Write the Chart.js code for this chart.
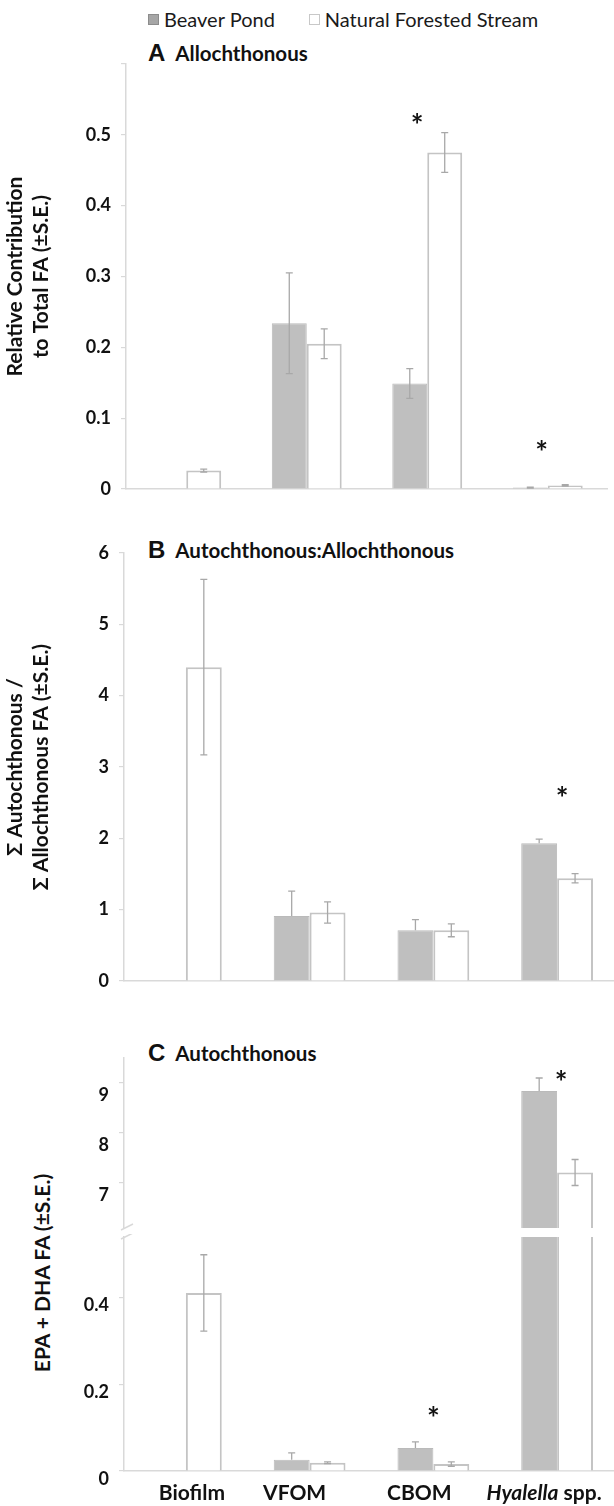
<!DOCTYPE html>
<html>
<head>
<meta charset="utf-8">
<script src="https://cdn.jsdelivr.net/npm/chart.js@4.4.1/dist/chart.umd.min.js"></script>
<style>
  body { margin: 0; width: 614px; height: 1506px; position: relative; overflow: hidden; background: #fff; font-family: Lato, 'Open Sans', sans-serif; color: #111; }
  .box { position: absolute; left: 0; }
  .legend { position: absolute; top: 8px; left: 148px; height: 22px; display: flex; align-items: center; font-size: 20px; line-height: 22px; color: #1a1a1a; }
  .legend__swatch { width: 11px; height: 11px; box-sizing: border-box; margin-right: 5px; }
  .legend__item { display: flex; align-items: center; margin-right: 34px; }
  .ptitle { position: absolute; font-weight: bold; font-size: 20.5px; line-height: 26px; white-space: nowrap; }
  .ptitle__letter { font-family: 'Liberation Sans', Arial, sans-serif; font-size: 24px; margin-right: 10px; }
  .ytitle { position: absolute; font-weight: bold; font-size: 21px; white-space: nowrap; transform: translate(-50%, -50%) rotate(-90deg); }
</style>
</head>
<body>
  <div class="legend">
    <span class="legend__item"><span class="legend__swatch" style="background:#a6a6a6;border:1px solid #8c8c8c"></span>Beaver Pond</span>
    <span class="legend__item"><span class="legend__swatch" style="background:#fff;border:1px solid #c8c8c8"></span>Natural Forested Stream</span>
  </div>

  <div class="ptitle" style="left:148px;top:40px"><span class="ptitle__letter">A</span>Allochthonous</div>
  <div class="ptitle" style="left:148px;top:537px"><span class="ptitle__letter">B</span>Autochthonous:Allochthonous</div>
  <div class="ptitle" style="left:148px;top:1040px"><span class="ptitle__letter">C</span>Autochthonous</div>
  <div class="ytitle" style="left:41px;top:1273px">EPA + DHA FA (±S.E.)</div>

  <div class="box" style="top:54px;width:608px;height:449px"><canvas id="chartA"></canvas></div>
  <div class="box" style="top:543px;width:619px;height:452px"><canvas id="chartB"></canvas></div>
  <div class="box" style="top:1048px;width:619px;height:183px"><canvas id="chartC1"></canvas></div>
  <div class="box" style="top:1234px;width:619px;height:272px"><canvas id="chartC2"></canvas></div>

<script>
  const categories = ['Biofilm', 'VFOM', 'CBOM', 'Hyalella spp.']

  // A: relative contribution of allochthonous FA
  const relBeaver = [null, 0.234, 0.149, 0.002]
  const relBeaverSE = [null, 0.071, 0.021, 0.0006]
  const relNatural = [0.026, 0.205, 0.475, 0.005]
  const relNaturalSE = [0.002, 0.021, 0.028, 0.001]
  const relStars = [null, null, 0.522, 0.06]

  // B: autochthonous / allochthonous ratio
  const ratioBeaver = [null, 0.91, 0.71, 1.93]
  const ratioBeaverSE = [null, 0.35, 0.15, 0.06]
  const ratioNatural = [4.4, 0.96, 0.71, 1.44]
  const ratioNaturalSE = [1.23, 0.15, 0.09, 0.065]
  const ratioStars = [null, null, null, 2.64]

  // C: EPA + DHA
  const epaBeaver = [null, 0.026, 0.053, 8.84]
  const epaBeaverSE = [null, 0.016, 0.014, 0.26]
  const epaNatural = [0.411, 0.019, 0.016, 7.21]
  const epaNaturalSE = [0.088, 0.002, 0.005, 0.26]
  const epaStars = [null, null, 0.136, 9.14]

  const axisColor = '#d9d9d9'
  const errorColor = '#a8a8a8'
  const tickFont = { family: 'Lato', size: 18, weight: 'bold' }

  const errorBars = {
    id: 'errorBars',
    afterDatasetsDraw(chart) {
      const { ctx, chartArea, scales: { y } } = chart
      ctx.save()
      ctx.beginPath()
      ctx.rect(chartArea.left, chartArea.top - 1, chartArea.right - chartArea.left, chartArea.bottom - chartArea.top + 1)
      ctx.clip()
      ctx.strokeStyle = errorColor
      ctx.lineWidth = 1.3
      chart.data.datasets.forEach((ds, i) => {
        chart.getDatasetMeta(i).data.forEach((bar, j) => {
          const v = ds.data[j]
          const se = ds.errors[j]
          if (v == null || se == null) return
          const top = y.getPixelForValue(v + se)
          const bottom = y.getPixelForValue(ds.plusOnly ? v : v - se)
          ctx.beginPath()
          ctx.moveTo(bar.x, top)
          ctx.lineTo(bar.x, bottom)
          ctx.moveTo(bar.x - 3.5, top)
          ctx.lineTo(bar.x + 3.5, top)
          if (!ds.plusOnly) {
            ctx.moveTo(bar.x - 3.5, bottom)
            ctx.lineTo(bar.x + 3.5, bottom)
          }
          ctx.stroke()
        })
      })
      ctx.restore()
    },
  }

  const stars = {
    id: 'stars',
    afterDraw(chart, args, opts) {
      if (!opts.values) return
      const { ctx, chartArea, scales: { x, y } } = chart
      ctx.save()
      ctx.font = 'bold 30px Lato'
      ctx.fillStyle = '#111'
      ctx.textAlign = 'center'
      ctx.textBaseline = 'middle'
      opts.values.forEach((v, i) => {
        if (v == null) return
        const py = y.getPixelForValue(v)
        if (py < chartArea.top - 15 || py > chartArea.bottom) return
        ctx.fillText('*', x.getPixelForValue(i) + (opts.dx[i] || 0), py + 7)
      })
      ctx.restore()
    },
  }

  const axisBreak = {
    id: 'axisBreak',
    afterDraw(chart, args, opts) {
      if (!opts.at) return
      const { ctx, chartArea } = chart
      const yy = opts.at === 'bottom' ? chartArea.bottom : chartArea.top
      ctx.save()
      ctx.strokeStyle = axisColor
      ctx.lineWidth = 1.5
      ctx.beginPath()
      ctx.moveTo(chartArea.left - 3, yy + 2)
      ctx.lineTo(chartArea.left + 9, yy - 4)
      ctx.stroke()
      ctx.restore()
    },
  }

  const categoryLabels = {
    id: 'categoryLabels',
    afterDraw(chart, args, opts) {
      if (!opts.show) return
      const { ctx, chartArea, scales: { x } } = chart
      ctx.save()
      ctx.fillStyle = '#111'
      ctx.textBaseline = 'middle'
      ctx.textAlign = 'left'
      categories.forEach((label, i) => {
        const cx = x.getPixelForValue(i) + (opts.dx[i] || 0)
        const cy = chartArea.bottom + 22
        const parts = label.startsWith('Hyalella') ?
          [['italic bold 21px Lato', 'Hyalella'], ['bold 21px Lato', ' spp.']] :
          [['bold 21px Lato', label]]
        let width = 0
        parts.forEach(([font, text]) => { ctx.font = font; width += ctx.measureText(text).width })
        let px = cx - width / 2
        parts.forEach(([font, text]) => {
          ctx.font = font
          ctx.fillText(text, px, cy)
          px += ctx.measureText(text).width
        })
      })
      ctx.restore()
    },
  }

  function makeChart(id, cfg) {
    return new Chart(document.getElementById(id), {
      type: 'bar',
      data: {
        labels: categories,
        datasets: [
          {
            label: 'Beaver Pond',
            data: cfg.beaver,
            errors: cfg.beaverSE,
            plusOnly: cfg.plusOnly,
            backgroundColor: '#bfbfbf',
            borderColor: '#bababa',
            borderWidth: 1,
          },
          {
            label: 'Natural Forested Stream',
            data: cfg.natural,
            errors: cfg.naturalSE,
            backgroundColor: '#ffffff',
            borderColor: '#c4c4c4',
            borderWidth: 2,
          },
        ],
      },
      options: {
        responsive: true,
        maintainAspectRatio: false,
        animation: false,
        categoryPercentage: 0.58,
        barPercentage: 1,
        layout: { padding: cfg.padding },
        plugins: {
          legend: { display: false },
          tooltip: { enabled: false },
          stars: { values: cfg.stars, dx: cfg.starDx || [] },
          axisBreak: { at: cfg.breakAt },
          categoryLabels: { show: cfg.showLabels, dx: [6, -15, -14, -13] },
        },
        scales: {
          x: {
            grid: { display: false },
            border: { display: cfg.showBase !== false, color: axisColor, width: 1.5 },
            ticks: { display: false },
            afterFit: (scale) => {
              scale.height = cfg.xHeight || 0
              scale.paddingLeft = 0
              scale.paddingRight = 0
            },
          },
          y: {
            min: cfg.min,
            max: cfg.max,
            grid: {
              drawOnChartArea: false,
              drawTicks: true,
              tickLength: 5,
              lineWidth: 1.2,
              color: (c) => (cfg.hideBlankTicks && c.tick && c.tick.label === '' ? 'rgba(0,0,0,0)' : axisColor),
            },
            border: { color: axisColor, width: 1.5 },
            ticks: {
              stepSize: cfg.step,
              font: tickFont,
              color: '#111',
              padding: 10,
              labelOffset: cfg.labelOffset || 0,
              callback: cfg.tickLabel,
            },
            title: cfg.title ? {
              display: true,
              text: cfg.title,
              font: { family: 'Lato', size: 21, weight: 'bold' },
              color: '#111',
              padding: { top: 3, bottom: 0 },
            } : { display: false },
            afterFit: (scale) => {
              scale.width = cfg.left
              scale.paddingTop = 0
              scale.paddingBottom = 0
            },
          },
        },
      },
      plugins: [errorBars, stars, axisBreak, categoryLabels],
    })
  }

  makeChart('chartA', {
    beaver: relBeaver, beaverSE: relBeaverSE,
    natural: relNatural, naturalSE: relNaturalSE,
    stars: relStars, starDx: [0, 0, -10, -6],
    min: 0, max: 0.6, step: 0.1, left: 126,
    padding: { top: 10, bottom: 14 },
    tickLabel: (v) => (v > 0.55 ? '' : v === 0 ? '0' : v.toFixed(1)),
    title: ['Relative Contribution', 'to Total FA (±S.E.)'],
  })

  makeChart('chartB', {
    beaver: ratioBeaver, beaverSE: ratioBeaverSE, plusOnly: true,
    natural: ratioNatural, naturalSE: ratioNaturalSE,
    stars: ratioStars, starDx: [0, 0, 0, 5],
    min: 0, max: 6, step: 1, left: 124,
    padding: { top: 10, bottom: 14 },
    tickLabel: (v) => String(v),
    title: ['Σ Autochthonous /', 'Σ Allochthonous FA (±S.E.)'],
  })

  makeChart('chartC1', {
    beaver: epaBeaver, beaverSE: epaBeaverSE, plusOnly: true,
    natural: epaNatural, naturalSE: epaNaturalSE,
    stars: epaStars, starDx: [0, 0, 0, 4],
    min: 6.1, max: 9.5, step: 1, left: 124,
    padding: { top: 10, bottom: 3 },
    showBase: false, breakAt: 'bottom', labelOffset: 12, hideBlankTicks: true,
    tickLabel: (v) => (Number.isInteger(v) ? String(v) : ''),
  })

  makeChart('chartC2', {
    beaver: epaBeaver, beaverSE: epaBeaverSE, plusOnly: true,
    natural: epaNatural, naturalSE: epaNaturalSE,
    stars: epaStars, starDx: [0, 0, 0, 0],
    min: 0, max: 0.54, step: 0.2, left: 124,
    padding: { top: 3, bottom: 0 },
    xHeight: 35, showLabels: true, breakAt: 'top', labelOffset: 8, hideBlankTicks: true,
    tickLabel: (v) => (Math.abs(v * 5 - Math.round(v * 5)) > 1e-6 ? '' : v === 0 ? '0' : v.toFixed(1)),
  })
</script>
</body>
</html>
